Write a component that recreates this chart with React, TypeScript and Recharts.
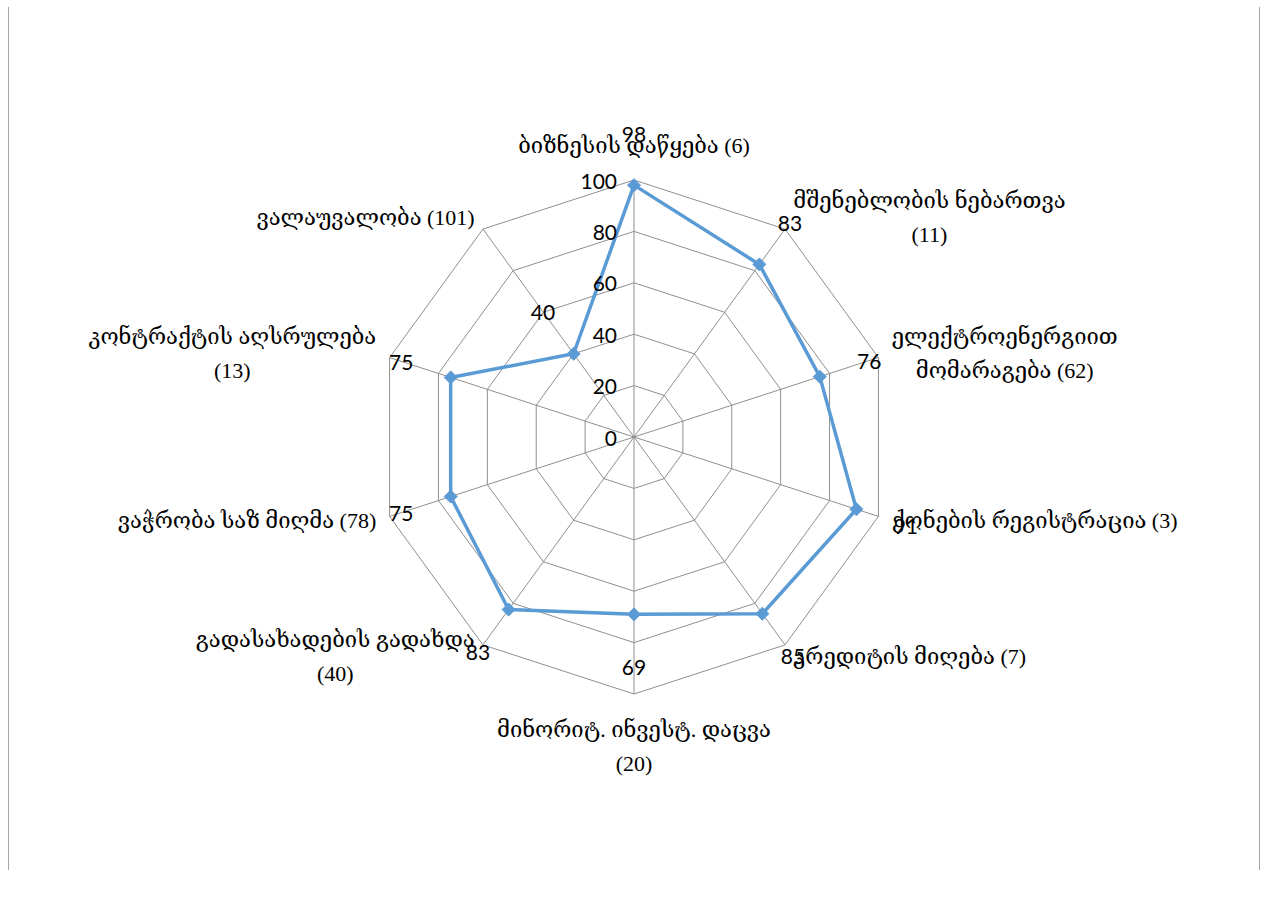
import { RadarChart, Radar, PolarGrid, PolarAngleAxis, PolarRadiusAxis, LabelList } from 'recharts';

const categories = [
  ['ბიზნესის დაწყება (6)'],
  ['მშენებლობის ნებართვა', '(11)'],
  ['ელექტროენერგიით', 'მომარაგება (62)'],
  ['ქონების რეგისტრაცია (3)'],
  ['კრედიტის მიღება (7)'],
  ['მინორიტ. ინვესტ. დაცვა', '(20)'],
  ['გადასახადების გადახდა', '(40)'],
  ['ვაჭრობა საზ მიღმა (78)'],
  ['კონტრაქტის აღსრულება', '(13)'],
  ['ვალაუვალობა (101)'],
];
const scores = [98, 83, 76, 91, 85, 69, 83, 75, 75, 40];
const radiusTicks = [0, 20, 40, 60, 80, 100];

const data = categories.map((lines, i) => ({ name: lines.join(' '), value: scores[i], idx: i }));

const W = 1248;
const H = 860;
const CX = 626;
const CY = 429;
const R = 257;
const BLUE = '#5B9BD5';
const GRID = '#8f8f8f';
const CAT_FONT = '"Liberation Serif", "DejaVu Serif", serif';
const CAT_SIZE = 22;
const NUM_FONT = 'Lato, "Liberation Sans", sans-serif';
const LINE_H = 34;

let ctx: CanvasRenderingContext2D | null = null;
function textWidth(s: string) {
  if (!ctx) ctx = document.createElement('canvas').getContext('2d');
  if (!ctx) return s.length * 10;
  ctx.font = `${CAT_SIZE}px ${CAT_FONT}`;
  return ctx.measureText(s).width;
}

function CategoryTick(props: any) {
  const { payload } = props;
  const i = payload.index ?? data.findIndex((d) => d.name === payload.value);
  const lines = categories[i] || [String(payload.value)];
  const ang = (payload.coordinate * Math.PI) / 180;
  const cos = Math.cos(ang);
  const sin = Math.sin(ang);
  const vertical = Math.abs(cos) < 0.1;
  const dist = R + (vertical ? 18 : 14);
  const px = CX + dist * cos;
  const py = CY - dist * sin;
  const blockH = lines.length * LINE_H;
  let top: number;
  if (vertical && sin > 0) top = py - blockH;
  else if (vertical) top = py;
  else top = py - blockH / 2;
  const widths = lines.map(textWidth);
  const blockW = Math.max(...widths);
  let centerX: number;
  if (vertical) centerX = px;
  else if (cos > 0) centerX = px + blockW / 2;
  else centerX = px - blockW / 2;
  return (
    <text fontFamily={CAT_FONT} fontSize={CAT_SIZE} fill="#000" textAnchor="middle">
      {lines.map((l, k) => (
        <tspan key={k} x={centerX} y={top + LINE_H * k + LINE_H / 2} dominantBaseline="central">
          {l}
        </tspan>
      ))}
    </text>
  );
}

function RadiusTick(props: any) {
  const { x, y, payload } = props;
  return (
    <text x={x - 17} y={y} textAnchor="end" dominantBaseline="central" fontFamily={NUM_FONT} fontSize={21} fill="#000">
      {payload.value}
    </text>
  );
}

function DataLabel(props: any) {
  const px = props.x ?? props.viewBox?.x;
  const py = props.y ?? props.viewBox?.y;
  if (px == null || py == null) return null;
  const dx = px - CX;
  const dy = py - CY;
  const len = Math.sqrt(dx * dx + dy * dy) || 1;
  return (
    <text
      x={px + (dx / len) * 52}
      y={py + (dy / len) * 52}
      textAnchor="middle"
      dominantBaseline="central"
      fontFamily={NUM_FONT}
      fontSize={21}
      fill="#000"
    >
      {props.value}
    </text>
  );
}

function Diamond(props: any) {
  const { cx, cy } = props;
  if (cx == null || cy == null) return null;
  const s = 6.5;
  return <path d={`M${cx},${cy - s}L${cx + s},${cy}L${cx},${cy + s}L${cx - s},${cy}Z`} fill={BLUE} stroke={BLUE} />;
}

const edge: React.CSSProperties = {
  position: 'fixed',
  top: 7,
  width: 1,
  height: 863,
  background: '#a6a6a6',
  zIndex: 2,
};

export default function App() {
  return (
    <div style={{ position: 'relative', width: W, height: H, background: '#fff' }}>
      <div style={{ ...edge, left: 8 }} />
      <div style={{ ...edge, left: 1259 }} />
      <RadarChart width={W} height={H} data={data} cx={CX} cy={CY} outerRadius={R} startAngle={90} endAngle={-270}>
        <PolarGrid gridType="polygon" stroke={GRID} strokeWidth={1} />
        <PolarAngleAxis dataKey="name" tick={CategoryTick} axisLine={false} tickLine={false} />
        <PolarRadiusAxis
          angle={90}
          domain={[0, 100]}
          ticks={radiusTicks}
          tick={RadiusTick}
          axisLine={false}
          tickLine={false}
        />
        <Radar
          dataKey="value"
          stroke={BLUE}
          strokeWidth={3.5}
          fill="none"
          fillOpacity={0}
          dot={Diamond}
          isAnimationActive={false}
        >
          <LabelList dataKey="value" content={DataLabel} />
        </Radar>
      </RadarChart>
    </div>
  );
}
